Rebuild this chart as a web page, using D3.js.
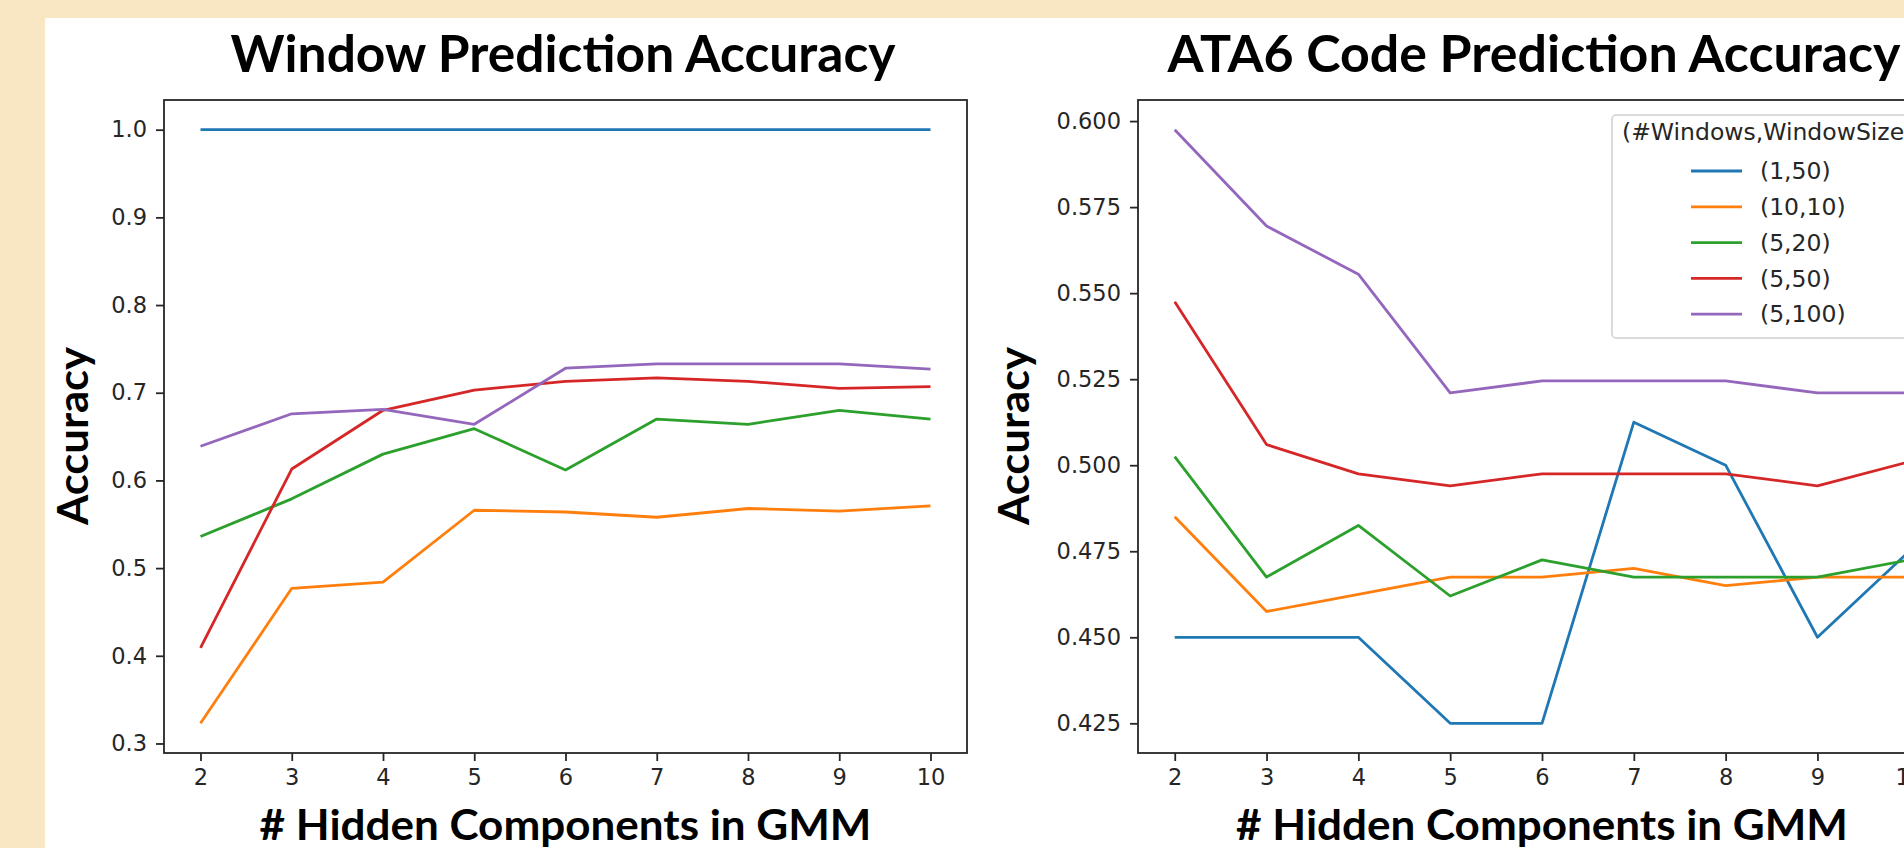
<!DOCTYPE html>
<html>
<head>
<meta charset="utf-8">
<script src="https://cdn.jsdelivr.net/npm/d3@7"></script>
<style>
    body { margin: 0; background: #f9e7c4; overflow: hidden; }
    .big-label { font-family: Lato, "Open Sans", sans-serif; font-weight: bold; fill: #000; }
    .legend-text { font-family: "DejaVu Sans", sans-serif; font-size: 23.5px; fill: #262626; }
</style>
</head>
<body>
<div id="chart-area"></div>
<script>

// x values: number of hidden components in the GMM
const components = [2, 3, 4, 5, 6, 7, 8, 9, 10];

// legend entries: (#Windows,WindowSize)
const seriesNames = ["(1,50)", "(10,10)", "(5,20)", "(5,50)", "(5,100)"];
const seriesColors = ["#1f77b4", "#ff7f0e", "#2ca02c", "#d62728", "#9467bd"];

// Window prediction accuracy
const windowAcc_1_50   = [1.0, 1.0, 1.0, 1.0, 1.0, 1.0, 1.0, 1.0, 1.0];
const windowAcc_10_10  = [0.323, 0.477, 0.484, 0.566, 0.564, 0.558, 0.568, 0.565, 0.571];
const windowAcc_5_20   = [0.536, 0.579, 0.630, 0.659, 0.612, 0.670, 0.664, 0.680, 0.670];
const windowAcc_5_50   = [0.409, 0.613, 0.680, 0.703, 0.713, 0.717, 0.713, 0.705, 0.707];
const windowAcc_5_100  = [0.639, 0.676, 0.681, 0.664, 0.728, 0.733, 0.733, 0.733, 0.727];

// ATA6 code prediction accuracy
const ataAcc_1_50   = [0.450, 0.450, 0.450, 0.425, 0.425, 0.5125, 0.500, 0.450, 0.475];
const ataAcc_10_10  = [0.485, 0.4575, 0.4625, 0.4675, 0.4675, 0.470, 0.465, 0.4675, 0.4675];
const ataAcc_5_20   = [0.5025, 0.4675, 0.4825, 0.462, 0.4725, 0.4675, 0.4675, 0.4675, 0.4725];
const ataAcc_5_50   = [0.5475, 0.506, 0.4975, 0.494, 0.4975, 0.4975, 0.4975, 0.494, 0.501];
const ataAcc_5_100  = [0.5975, 0.5695, 0.5555, 0.521, 0.5245, 0.5245, 0.5245, 0.521, 0.521];

// tick labels
const windowTicks = [0.3, 0.4, 0.5, 0.6, 0.7, 0.8, 0.9, 1.0];
const ataTicks = [0.425, 0.450, 0.475, 0.500, 0.525, 0.550, 0.575, 0.600];


// stretch a bold label horizontally so it spans the width seen in the original
function fitText(sel, cx, cy, width, rotate) {
    let w = sel.node().getComputedTextLength();
    let k = width / w;
    sel.attr("transform", "translate(" + cx + "," + cy + ")" + (rotate ? " rotate(-90)" : "") + " scale(" + k + ",1)");
}


class AccuracyVis {

    constructor(_svg, _config) {
        this.svg = _svg;
        this.config = _config;
        this.initVis();
    }

    initVis() {
        let vis = this;
        let c = vis.config;

        vis.g = vis.svg.append("g");

        vis.x = d3.scaleLinear()
            .domain([1.6, 10.4])
            .range([c.left, c.right]);

        // matplotlib style 5% autoscale margin
        let all = c.series.flat();
        let lo = d3.min(all), hi = d3.max(all), pad = (hi - lo) * 0.05;
        vis.y = d3.scaleLinear()
            .domain([lo - pad, hi + pad])
            .range([c.bottom, c.top]);

        vis.g.append("defs").append("clipPath")
            .attr("id", c.id + "-clip")
            .append("rect")
            .attr("x", c.left).attr("y", c.top)
            .attr("width", c.right - c.left).attr("height", c.bottom - c.top);

        vis.updateVis();
    }

    updateVis() {
        let vis = this;
        let c = vis.config;

        // lines
        let line = d3.line()
            .x((d, i) => vis.x(components[i]))
            .y(d => vis.y(d));

        vis.g.append("g")
            .attr("clip-path", "url(#" + c.id + "-clip)")
            .selectAll(".line")
            .data(c.series)
            .enter().append("path")
            .attr("class", "line")
            .attr("d", d => line(d))
            .attr("fill", "none")
            .attr("stroke", (d, i) => seriesColors[i])
            .attr("stroke-width", 2.8)
            .attr("stroke-linejoin", "round");

        // axes
        let yAxis = vis.g.append("g")
            .attr("transform", "translate(" + c.left + ",0)")
            .call(d3.axisLeft(vis.y).tickValues(c.ticks).tickFormat(d3.format(c.format)).tickSize(8).tickPadding(9));

        let xAxis = vis.g.append("g")
            .attr("transform", "translate(0," + c.bottom + ")")
            .call(d3.axisBottom(vis.x).tickValues(components).tickFormat(d3.format("d")).tickSize(8).tickPadding(8));

        [xAxis, yAxis].forEach(a => {
            a.attr("font-family", "DejaVu Sans, sans-serif")
                .attr("font-size", 22.5)
                .attr("color", "#262626");
            a.select(".domain").remove();
            a.selectAll(".tick line").attr("stroke-width", 1.8);
        });

        // frame
        vis.g.append("rect")
            .attr("x", c.left).attr("y", c.top)
            .attr("width", c.right - c.left).attr("height", c.bottom - c.top)
            .attr("fill", "none")
            .attr("stroke", "#262626")
            .attr("stroke-width", 1.8);

        // title
        let title = vis.g.append("text")
            .attr("class", "big-label")
            .attr("text-anchor", "middle")
            .attr("font-size", 52)
            .text(c.title);
        fitText(title, c.titleX, 72, c.titleWidth, false);

        let xLabel = vis.g.append("text")
            .attr("class", "big-label")
            .attr("text-anchor", "middle")
            .attr("font-size", 42)
            .text("# Hidden Components in GMM");
        fitText(xLabel, (c.left + c.right) / 2, 840, 612, false);

        let yLabel = vis.g.append("text")
            .attr("class", "big-label")
            .attr("text-anchor", "middle")
            .attr("font-size", 42)
            .text("Accuracy");
        fitText(yLabel, c.yLabelX, 436, 178, true);
    }
}


let svg = d3.select("#chart-area").append("svg")
    .attr("width", 1904)
    .attr("height", 848)
    .style("display", "block");

svg.append("rect")
    .attr("x", 45).attr("y", 18)
    .attr("width", 1904 - 45).attr("height", 848 - 18)
    .attr("fill", "#ffffff");

let windowVis = new AccuracyVis(svg, {
    id: "window",
    left: 164, right: 967, top: 100, bottom: 753,
    series: [windowAcc_1_50, windowAcc_10_10, windowAcc_5_20, windowAcc_5_50, windowAcc_5_100],
    ticks: windowTicks, format: ".1f",
    title: "Window Prediction Accuracy", titleX: 563, titleWidth: 665,
    yLabelX: 88
});

let ataVis = new AccuracyVis(svg, {
    id: "ata",
    left: 1138, right: 1946, top: 100, bottom: 753,
    series: [ataAcc_1_50, ataAcc_10_10, ataAcc_5_20, ataAcc_5_50, ataAcc_5_100],
    ticks: ataTicks, format: ".3f",
    title: "ATA6 Code Prediction Accuracy", titleX: 1534, titleWidth: 733,
    yLabelX: 1029
});

// legend (inside the ATA6 chart, cut by the right edge as in the original)
let legend = svg.append("g");

legend.append("rect")
    .attr("x", 1612).attr("y", 115)
    .attr("width", 300).attr("height", 223)
    .attr("rx", 4)
    .attr("fill", "#ffffff").attr("fill-opacity", 0.8)
    .attr("stroke", "#d0d0d0").attr("stroke-width", 1.5);

legend.append("text")
    .attr("class", "legend-text")
    .attr("x", 1622).attr("y", 132)
    .attr("dy", "0.35em")
    .text("(#Windows,WindowSize)");

let entries = legend.selectAll(".legend-entry")
    .data(seriesNames)
    .enter().append("g")
    .attr("class", "legend-entry")
    .attr("transform", (d, i) => "translate(0," + (171 + i * 35.8) + ")");

entries.append("line")
    .attr("x1", 1691).attr("x2", 1742)
    .attr("stroke", (d, i) => seriesColors[i])
    .attr("stroke-width", 2.8);

entries.append("text")
    .attr("class", "legend-text")
    .attr("x", 1760)
    .attr("dy", "0.35em")
    .text(d => d);

</script>
</body>
</html>
